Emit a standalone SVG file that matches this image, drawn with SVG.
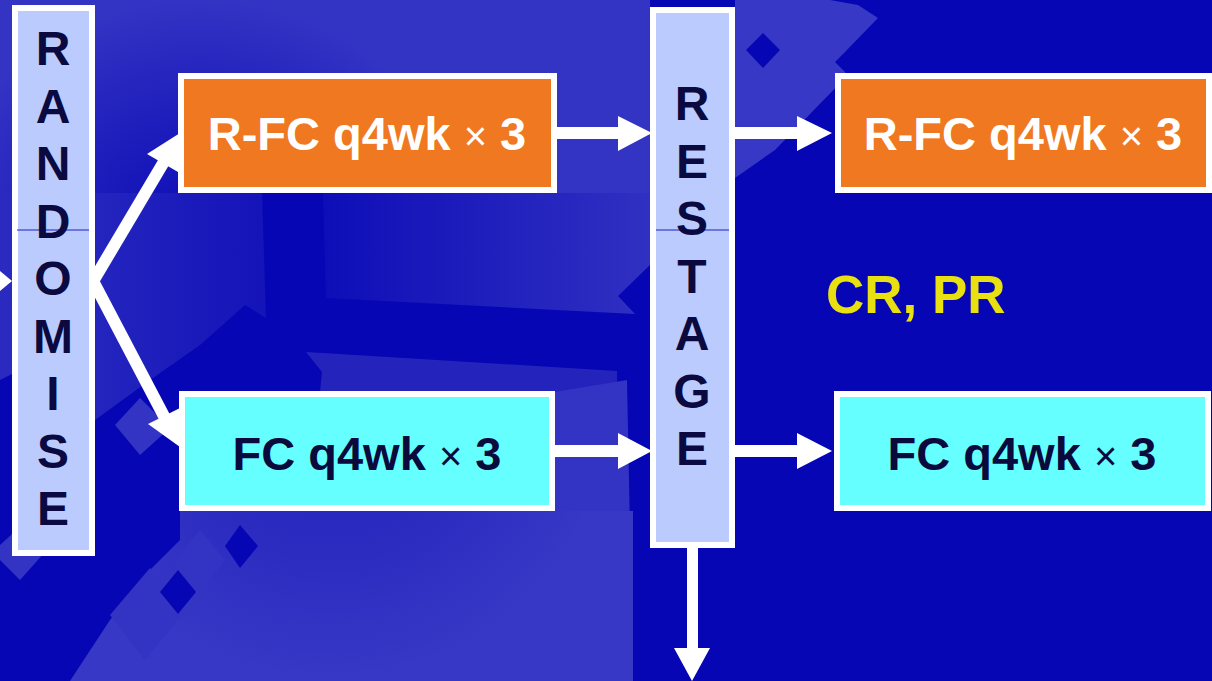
<svg xmlns="http://www.w3.org/2000/svg" width="1212" height="681" viewBox="0 0 1212 681">
<style>
.col{fill:#bccbfd;stroke:#ffffff;stroke-width:6}
.orange{fill:#f07820;stroke:#ffffff;stroke-width:6}
.cyan{fill:#66ffff;stroke:#ffffff;stroke-width:6}
.vl{font-family:"Liberation Sans",Arial,sans-serif;font-weight:bold;font-size:48px;fill:#0a0a40;text-anchor:middle}
.bt{font-family:"Liberation Sans",Arial,sans-serif;font-weight:bold;font-size:47px;text-anchor:middle}
.x{font-weight:normal;font-size:40px}
.arrow{fill:#ffffff}
.shaft{stroke:#ffffff;stroke-width:12;fill:none}
</style>
<defs>
<radialGradient id="gTL" cx="0" cy="0" r="1" gradientUnits="userSpaceOnUse" gradientTransform="translate(200,230) scale(260,230)">
<stop offset="0" stop-color="#0c0cb6"/>
<stop offset="0.5" stop-color="#1e1ebc"/>
<stop offset="1" stop-color="#3333c4"/>
</radialGradient>
<linearGradient id="gMid" x1="323" y1="0" x2="650" y2="0" gradientUnits="userSpaceOnUse">
<stop offset="0" stop-color="#0e0eb8"/>
<stop offset="1" stop-color="#3030c2"/>
</linearGradient>
<linearGradient id="gLeft" x1="95" y1="0" x2="262" y2="0" gradientUnits="userSpaceOnUse">
<stop offset="0" stop-color="#2424be"/>
<stop offset="1" stop-color="#1414b9"/>
</linearGradient>
<radialGradient id="gBot" cx="0" cy="0" r="1" gradientUnits="userSpaceOnUse" gradientTransform="translate(330,380) scale(290,300)">
<stop offset="0" stop-color="#2020bd"/>
<stop offset="0.6" stop-color="#2c2cc1"/>
<stop offset="1" stop-color="#3838c6"/>
</radialGradient>
</defs>
<g id="background">
<rect x="0" y="0" width="1212" height="681" fill="#0606b4"/>
<path d="M0,0 H650 V193 H0 Z" fill="url(#gTL)"/>
<path d="M0,193 H95 V330 L40,360 L0,380 Z" fill="#2a2ac0"/>
<path d="M95,193 H262 L266,318 L245,305 L200,345 L150,380 L95,420 Z" fill="url(#gLeft)"/>
<path d="M323,193 H650 V265 L618,296 L635,314 L326,298 Z" fill="url(#gMid)"/>
<path d="M306,352 L617,371 V392 H320 L322,372 Z" fill="#2424bd"/>
<path d="M555,392 L627,380 L633,681 H555 Z" fill="#3333c4"/>
<path d="M180,511 H633 V681 H70 L110,620 L150,570 L180,540 Z" fill="url(#gBot)"/>
<g fill="#3434c4">
<path d="M110,615 L150,568 L185,612 L145,660 Z"/>
<path d="M175,560 L200,530 L225,560 L200,592 Z"/>
<path d="M115,425 L140,398 L170,428 L140,455 Z"/>
<path d="M0,545 L22,525 L45,552 L20,580 L0,560 Z"/>
</g>
<g fill="#0606b4">
<path d="M160,592 L178,570 L196,592 L178,614 Z"/>
<path d="M225,546 L240,525 L258,546 L240,568 Z"/>
</g>
<path d="M735,0 H830 L858,5 L878,18 L845,52 L835,62 L848,75 L775,150 L735,178 Z" fill="#3838c6"/>
<path d="M746,50 L763,33 L780,50 L763,68 Z" fill="#0606b4"/>
</g>
<g id="connectors">
<polygon class="arrow" points="0,271 12,281 0,291"/>
<line class="shaft" x1="92" y1="283" x2="165" y2="160"/>
<polygon class="arrow" points="180,133 147,154 178,172"/>
<line class="shaft" x1="92" y1="279" x2="166" y2="420"/>
<polygon class="arrow" points="180,447 148,424 180,408"/>
<rect class="arrow" x="557" y="127" width="63" height="12"/>
<polygon class="arrow" points="618,116 652,133 618,151"/>
<rect class="arrow" x="735" y="127" width="64" height="12"/>
<polygon class="arrow" points="797,116 832,133 797,151"/>
<rect class="arrow" x="555" y="445" width="65" height="12"/>
<polygon class="arrow" points="618,433 652,451 618,469"/>
<rect class="arrow" x="735" y="445" width="64" height="12"/>
<polygon class="arrow" points="797,433 832,451 797,469"/>
<rect class="arrow" x="687" y="548" width="11" height="102"/>
<polygon class="arrow" points="674,648 692,681 710,648"/>
</g>
<g id="randomise">
<rect class="col" x="15" y="8" width="77" height="545"/>
<line x1="17" y1="230" x2="89" y2="230" stroke="#2020c4" stroke-width="1.2"/>
<text class="vl" x="53" y="65">R</text>
<text class="vl" x="53" y="122.5">A</text>
<text class="vl" x="53" y="180">N</text>
<text class="vl" x="53" y="237.5">D</text>
<text class="vl" x="53" y="295">O</text>
<text class="vl" x="53" y="352.5">M</text>
<text class="vl" x="53" y="410">I</text>
<text class="vl" x="53" y="467.5">S</text>
<text class="vl" x="53" y="525">E</text>
</g>
<g id="restage">
<rect class="col" x="653" y="10" width="79" height="535"/>
<line x1="656" y1="230" x2="729" y2="230" stroke="#2020c4" stroke-width="1.2"/>
<text class="vl" x="692" y="120">R</text>
<text class="vl" x="692" y="177.5">E</text>
<text class="vl" x="692" y="235">S</text>
<text class="vl" x="692" y="292.5">T</text>
<text class="vl" x="692" y="350">A</text>
<text class="vl" x="692" y="407.5">G</text>
<text class="vl" x="692" y="465">E</text>
</g>
<g id="rfc-left">
<rect class="orange" x="181" y="76" width="373" height="114"/>
<text class="bt" x="367" y="150" fill="#ffffff">R-FC q4wk <tspan class="x">×</tspan> 3</text>
</g>
<g id="fc-left">
<rect class="cyan" x="182" y="394" width="370" height="114"/>
<text class="bt" x="367" y="470" fill="#0a0a3c">FC q4wk <tspan class="x">×</tspan> 3</text>
</g>
<g id="rfc-right">
<rect class="orange" x="838" y="76" width="371" height="114"/>
<text class="bt" x="1023" y="150" fill="#ffffff">R-FC q4wk <tspan class="x">×</tspan> 3</text>
</g>
<g id="fc-right">
<rect class="cyan" x="837" y="394" width="371" height="114"/>
<text class="bt" x="1022" y="470" fill="#0a0a3c">FC q4wk <tspan class="x">×</tspan> 3</text>
</g>
<g id="crpr">
<text x="826" y="313" font-family="'Liberation Sans',Arial,sans-serif" font-weight="bold" font-size="53" fill="#e8e010">CR, PR</text>
</g>
</svg>
